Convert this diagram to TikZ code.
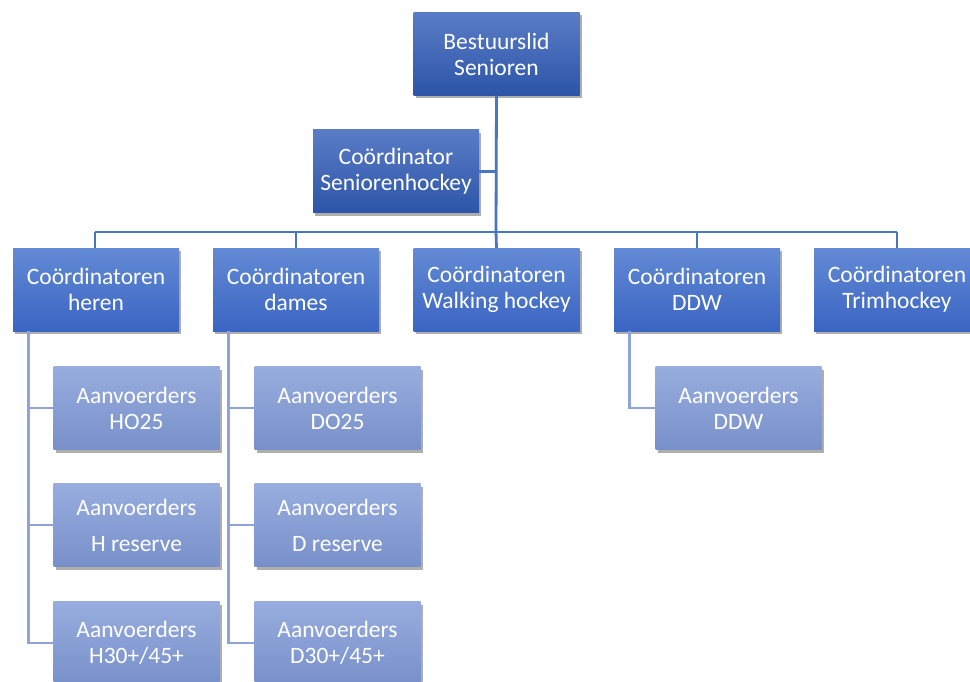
\documentclass[tikz,border=0pt]{standalone}
\usepackage{fontspec}
\setmainfont{Carlito}
\usetikzlibrary{shadows}
\definecolor{topA}{HTML}{5A7CC6}
\definecolor{botA}{HTML}{2C55A8}
\definecolor{topB}{HTML}{628AD5}
\definecolor{botB}{HTML}{3A65C2}
\definecolor{topC}{HTML}{98ADDE}
\definecolor{botC}{HTML}{7890CA}
\definecolor{lineA}{HTML}{4A74C4}
\definecolor{lineC}{HTML}{8DA3DA}
\begin{document}
\begin{tikzpicture}[x=1pt,y=-1pt,
  box/.style={minimum width=166pt, minimum height=83pt, inner sep=0pt, align=center,
    text=white, font=\fontsize{23.5}{26}\selectfont,
    drop shadow={shadow xshift=2pt, shadow yshift=-3pt, opacity=0.45, fill=black!70}},
  lvlA/.style={box, top color=topA, bottom color=botA},
  lvlB/.style={box, top color=topB, bottom color=botB},
  lvlC/.style={box, top color=topC, bottom color=botC},
  conA/.style={draw=lineA, line width=2.8pt},
  conC/.style={draw=lineC, line width=2.8pt}]
\useasboundingbox (0,0) rectangle (970,682);
\clip (0,0) rectangle (970,682);
\fill[white] (0,0) rectangle (970,682);

\coordinate (bar) at (496,232);
\coordinate (barL) at (95,232);
\coordinate (barR) at (897,232);

% nodes
\node[lvlA] (bestuur) at (496.5,54) {Bestuurslid\\Senioren};
\node[lvlA] (coord) at (396,171.5) {Coördinator\\Seniorenhockey};

\node[lvlB] (heren) at (96,289.5) {Coördinatoren\\heren};
\node[lvlB] (dames) at (296,289.5) {Coördinatoren\\dames};
\node[lvlB] (walking) at (496.5,289.5) {Coördinatoren\\Walking hockey};
\node[lvlB] (ddw) at (697,289.5) {Coördinatoren\\DDW};
\node[lvlB] (trim) at (897,289.5) {Coördinatoren\\Trimhockey};

\node[lvlC] (ho25) at (136.5,408) {Aanvoerders\\HO25};
\node[lvlC] (hres) at (136.5,525) {Aanvoerders\\[10pt]H reserve};
\node[lvlC] (h30) at (136.5,643) {Aanvoerders\\H30+/45+};

\node[lvlC] (do25) at (337.5,408) {Aanvoerders\\DO25};
\node[lvlC] (dres) at (337.5,525) {Aanvoerders\\[10pt]D reserve};
\node[lvlC] (d30) at (337.5,643) {Aanvoerders\\D30+/45+};

\node[lvlC] (ddwc) at (738.5,408) {Aanvoerders\\DDW};

% main connectors
\draw[conA] (bestuur.south) -- (bar);
\draw[conA] (coord.east) -- (coord.east -| bar);
\draw[conA] (barL) -- (barR);
\draw[conA] (barL) -- (heren.north -| barL);
\draw[conA] (dames.north |- bar) -- (dames.north);
\draw[conA] (bar) -- (walking.north);
\draw[conA] (ddw.north |- bar) -- (ddw.north);
\draw[conA] (barR) -- (trim.north -| barR);

% child connectors
\draw[conC] ([xshift=16pt]heren.south west) |- (ho25.west);
\draw[conC] ([xshift=16pt]heren.south west) |- (hres.west);
\draw[conC] ([xshift=16pt]heren.south west) |- (h30.west);
\draw[conC] ([xshift=16pt]dames.south west) |- (do25.west);
\draw[conC] ([xshift=16pt]dames.south west) |- (dres.west);
\draw[conC] ([xshift=16pt]dames.south west) |- (d30.west);
\draw[conC] ([xshift=16pt]ddw.south west) |- (ddwc.west);
\end{tikzpicture}
\end{document}
